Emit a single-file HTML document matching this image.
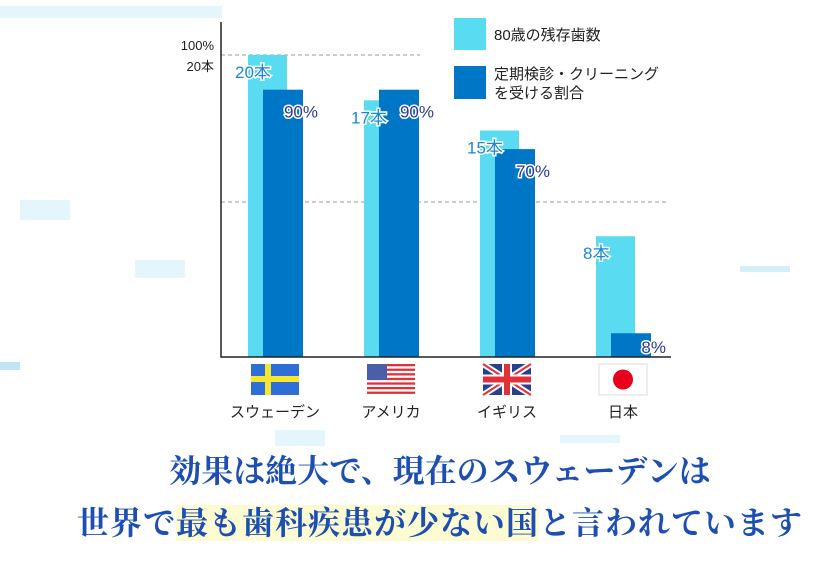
<!DOCTYPE html>
<html><head><meta charset="utf-8">
<style>
html,body{margin:0;padding:0;background:#fff;}
#wrap{position:relative;width:840px;height:571px;overflow:hidden;background:#fff;font-family:"Liberation Sans","Noto Sans CJK JP",sans-serif;}
.deco{position:absolute;background:#e4f5fc;}
.title{position:absolute;left:20px;width:840px;text-align:center;font-family:"Liberation Serif","Noto Serif CJK SC",serif;font-weight:bold;font-size:32px;color:#1d4fb3;white-space:nowrap;}
.hl{background:#fdfbd2;}
</style></head><body>
<div id="wrap">
<div class="deco" style="left:0;top:6px;width:222px;height:12px"></div>
<div class="deco" style="left:20px;top:200px;width:50px;height:20px"></div>
<div class="deco" style="left:135px;top:260px;width:50px;height:18px"></div>
<div class="deco" style="left:0;top:362px;width:20px;height:8px;background:#bfe6f7"></div>
<div class="deco" style="left:275px;top:430px;width:50px;height:16px"></div>
<div class="deco" style="left:560px;top:435px;width:60px;height:8px"></div>
<div class="deco" style="left:740px;top:266px;width:50px;height:6px;background:#d4eff9"></div>
<svg id="chart" width="840" height="440" style="position:absolute;left:0;top:0"></svg>
<div class="title" style="top:446px;letter-spacing:0px">効果は絶大で、現在のスウェーデンは</div>
<div class="title" style="top:498px;letter-spacing:1px">世界で<span class="hl">最も歯科疾患が少ない国</span>と言われています</div>
</div>
<script>
const countries=["スウェーデン","アメリカ","イギリス","日本"];
const teeth=[20,17,15,8];
const rates=[90,90,70,8];
const NS="http://www.w3.org/2000/svg";
const svg=document.getElementById('chart');
const baseY=357, x0=221;
function yTeeth(v){return baseY-v*15.1;}
function yRate(v){return baseY-v*2.97;}
function xGroup(i){return 248+i*116;}
function el(t,a,p){const e=document.createElementNS(NS,t);for(const k in a)e.setAttribute(k,a[k]);(p||svg).appendChild(e);return e;}
let d1=el('line',{x1:x0,x2:420,y1:yTeeth(20),y2:yTeeth(20),stroke:'#999','stroke-dasharray':'4 3','stroke-width':1});


let d2=el('line',{x1:x0,x2:666,y1:202,y2:202,stroke:'#999','stroke-dasharray':'4 3','stroke-width':1});


teeth.forEach((v,i)=>{
  const x=xGroup(i);
  const b=el('rect',{x:x,y:yTeeth(v),width:39,height:baseY-yTeeth(v),fill:'#59dbf2'});
  
  
  const r=rates[i];
  const b2=el('rect',{x:x+15,y:yRate(r),width:40,height:baseY-yRate(r),fill:'#0077c6'});
  
  
  const t=el('text',{x:x-13,y:yTeeth(v)+23,'font-size':17,fill:'#1a88d2',stroke:'#fff','stroke-width':3,'paint-order':'stroke','font-family':'Liberation Sans, Noto Sans CJK JP, sans-serif'});
  t.textContent=v+'本';
  
  
  const ly=Math.min(yRate(r)+28,baseY-4);
  const t2=el('text',{x:x+70,y:ly,'font-size':17,fill:'#2a3a96',stroke:'#fff','stroke-width':3,'paint-order':'stroke','text-anchor':'end','font-family':'Liberation Sans, sans-serif'});
  t2.textContent=r+'%';
  
  
  const c=el('text',{x:x+27,y:417,'font-size':15,fill:'#222','text-anchor':'middle','font-family':'Liberation Sans, Noto Sans CJK JP, sans-serif'});
  c.textContent=countries[i];
  
  
});
let ax=el('polyline',{points:x0+',22 '+x0+','+baseY+' 671,'+baseY,fill:'none',stroke:'#222','stroke-width':1.5});


let yl1=el('text',{x:214,y:50,'font-size':13,fill:'#222','text-anchor':'end','font-family':'Liberation Sans, sans-serif'});yl1.textContent='100%';


let yl2=el('text',{x:214,y:71,'font-size':13,fill:'#222','text-anchor':'end','font-family':'Liberation Sans, Noto Sans CJK JP, sans-serif'});yl2.textContent='20本';


let lg1=el('rect',{x:454,y:18,width:32,height:32,fill:'#59dbf2'});


let lg2=el('rect',{x:454,y:66,width:32,height:33,fill:'#0077c6'});


const lf='Liberation Sans, Noto Sans CJK JP, sans-serif';
let lt1=el('text',{x:494,y:40,'font-size':15,fill:'#222','font-family':lf});lt1.textContent='80歳の残存歯数';


let lt2=el('text',{x:494,y:79,'font-size':15,fill:'#222','font-family':lf});lt2.textContent='定期検診・クリーニング';


let lt3=el('text',{x:494,y:98,'font-size':15,fill:'#222','font-family':lf});lt3.textContent='を受ける割合';


function flag(i){
  const x=xGroup(i)+3,y=364,w=48,h=31;
  const g=el('g',{});
  
  
  if(i===0){el('rect',{x:x,y:y,width:w,height:h,fill:'#2d6fd6'},g);el('rect',{x:x+14,y:y,width:6,height:h,fill:'#f5e632'},g);el('rect',{x:x,y:y+12,width:w,height:6,fill:'#f5e632'},g);}
  if(i===1){el('rect',{x:x,y:y,width:w,height:h,fill:'#fff'},g);for(let k=0;k<7;k++)el('rect',{x:x,y:y+k*4.6,width:w,height:2.3,fill:'#e0303a'},g);el('rect',{x:x,y:y,width:20,height:16,fill:'#4a5fa8'},g);}
  if(i===2){el('rect',{x:x,y:y,width:w,height:h,fill:'#2b3f8f'},g);el('line',{x1:x,y1:y,x2:x+w,y2:y+h,stroke:'#fff','stroke-width':6},g);el('line',{x1:x+w,y1:y,x2:x,y2:y+h,stroke:'#fff','stroke-width':6},g);el('line',{x1:x,y1:y,x2:x+w,y2:y+h,stroke:'#e0303a','stroke-width':2},g);el('line',{x1:x+w,y1:y,x2:x,y2:y+h,stroke:'#e0303a','stroke-width':2},g);el('rect',{x:x+19,y:y,width:10,height:h,fill:'#fff'},g);el('rect',{x:x,y:y+10.5,width:w,height:10,fill:'#fff'},g);el('rect',{x:x+21,y:y,width:6,height:h,fill:'#e0303a'},g);el('rect',{x:x,y:y+12.5,width:w,height:6,fill:'#e0303a'},g);}
  if(i===3){el('rect',{x:x,y:y,width:w,height:h,fill:'#fff',stroke:'#ddd'},g);el('circle',{cx:x+24,cy:y+15.5,r:10,fill:'#e8001c'},g);}
}
[0,1,2,3].forEach(flag);
</script>
</body></html>
